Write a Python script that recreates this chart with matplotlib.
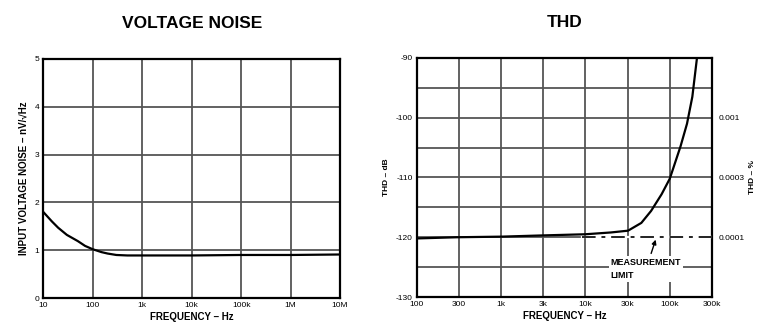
import numpy as np
import matplotlib
matplotlib.use("Agg")
from matplotlib import pyplot as plt

# voltage noise curve (Hz, nV/rtHz)
noise_freq = [10, 15, 20, 30, 50, 70, 100, 150, 200, 300, 500, 1e3, 1e4, 1e5, 1e6, 1e7]
noise_val = [1.8, 1.6, 1.47, 1.32, 1.19, 1.09, 1.02, 0.96, 0.93, 0.9, 0.89, 0.89, 0.89, 0.9, 0.9, 0.91]
noise_xticks = [10, 100, 1e3, 1e4, 1e5, 1e6, 1e7]
noise_xlabels = ["10", "100", "1k", "10k", "100k", "1M", "10M"]
noise_yticks = [0, 1, 2, 3, 4, 5]

# THD curve (Hz, dB)
thd_freq = [100, 300, 1e3, 3e3, 1e4, 2e4, 3.2e4, 4.6e4, 6e4, 8e4, 1e5, 1.34e5, 1.6e5, 1.85e5, 2.1e5]
thd_val = [-120.2, -120.0, -119.9, -119.7, -119.5, -119.2, -118.9, -117.6, -115.6, -112.8, -110.2, -104.8, -101.0, -96.5, -90.0]
limit_freq = [9e3, 3.16e5]
limit_val = [-120, -120]
thd_xticks = [100, 316, 1e3, 3.16e3, 1e4, 3.16e4, 1e5, 3.16e5]
thd_xlabels = ["100", "300", "1k", "3k", "10k", "30k", "100k", "300k"]
thd_ygrid = np.arange(-130, -89, 5)
pct_ticks = [-100, -110, -120]
pct_labels = ["0.001", "0.0003", "0.0001"]

plt.rcParams['font.family'] = ['Liberation Sans', 'DejaVu Sans']

fig = plt.figure(figsize=(7.59, 3.32), dpi=100)
grid_kw = dict(color="#555555", linewidth=1.3)
tick_fs = 6

# left: voltage noise
ax1 = fig.add_axes([0.057, 0.1024, 0.391, 0.72])
ax1.set_xscale("log")
ax1.set_xlim(10, 1e7)
ax1.set_ylim(0, 5)
ax1.set_xticks(noise_xticks)
ax1.set_xticklabels(noise_xlabels)
ax1.xaxis.set_minor_locator(matplotlib.ticker.NullLocator())
ax1.set_yticks(noise_yticks)
ax1.grid(True, **grid_kw)
ax1.plot(noise_freq, noise_val, color="black", linewidth=1.6)
ax1.tick_params(length=0, labelsize=tick_fs, pad=3)
ax1.set_xlabel("FREQUENCY – Hz", fontsize=7, fontweight="bold", labelpad=2)
ax1.set_ylabel("INPUT VOLTAGE NOISE – nV/√Hz", fontsize=7, fontweight="bold", labelpad=4)
ax1.set_title("VOLTAGE NOISE", fontsize=12.5, fontweight="bold", pad=22)
for s in ax1.spines.values():
    s.set_linewidth(1.6)

# right: THD
ax2 = fig.add_axes([0.549, 0.1054, 0.389, 0.72])
ax2.set_xscale("log")
ax2.set_xlim(100, 3.16e5)
ax2.set_ylim(-130, -90)
ax2.set_xticks(thd_xticks)
ax2.set_xticklabels(thd_xlabels)
ax2.xaxis.set_minor_locator(matplotlib.ticker.NullLocator())
ax2.set_yticks(thd_ygrid)
ax2.set_yticklabels([str(v) if v % 10 == 0 else "" for v in thd_ygrid])
ax2.grid(True, **grid_kw)
ax2.plot(limit_freq, limit_val, color="white", linewidth=1.6, zorder=3)
ax2.plot(limit_freq, limit_val, color="#222222", linewidth=1.4, linestyle=(0, (7, 3, 2, 3)), zorder=3.5)
ax2.plot(thd_freq, thd_val, color="black", linewidth=1.6, zorder=4)
ax2.annotate("MEASUREMENT\nLIMIT", xy=(6.8e4, -120.4), xytext=(2.0e4, -125.3),
             fontsize=6.5, fontweight="bold", va="center", ha="left", linespacing=1.5,
             bbox=dict(facecolor="white", edgecolor="none", pad=1.5),
             arrowprops=dict(arrowstyle="-|>", color="black", lw=1.0, shrinkA=2, shrinkB=0,
                             relpos=(0.55, 1.0)))
ax2.tick_params(length=0, labelsize=tick_fs, pad=3)
ax2.set_xlabel("FREQUENCY – Hz", fontsize=7, fontweight="bold", labelpad=2)
ax2.set_ylabel("THD – dB", fontsize=6, fontweight="bold", labelpad=4)
ax2.set_title("THD", fontsize=12.5, fontweight="bold", pad=22)
for s in ax2.spines.values():
    s.set_linewidth(1.6)

ax3 = ax2.twinx()
ax3.set_ylim(-130, -90)
ax3.set_yticks(pct_ticks)
ax3.set_yticklabels(pct_labels)
ax3.tick_params(length=0, labelsize=tick_fs, pad=5)
ax3.set_ylabel("THD – %", fontsize=6, fontweight="bold", labelpad=3)
for s in ax3.spines.values():
    s.set_visible(False)

fig.savefig("out.png", dpi=100)
